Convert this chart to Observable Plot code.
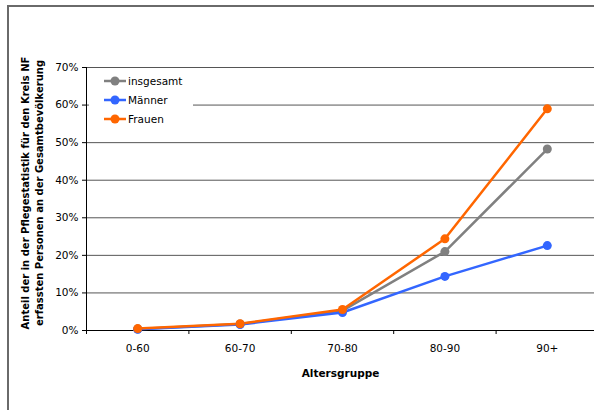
<!DOCTYPE html>
<html>
<head>
<meta charset="utf-8">
<script src="https://cdn.jsdelivr.net/npm/d3@7"></script>
<script src="https://cdn.jsdelivr.net/npm/@observablehq/plot@0.6"></script>
<style>
  html, body { margin: 0; padding: 0; background: #fff; overflow: hidden; }
  #wrap { position: relative; width: 594px; height: 410px; overflow: hidden; background: #fff; }
  #chart svg { display: block; }
  #frame { position: absolute; left: 7px; top: 5px; width: 600px; height: 420px;
           border-left: 2px solid #6a6a6a; border-top: 2px solid #6a6a6a; pointer-events: none; }
  #legend { position: absolute; left: 89px; top: 70px; display: block; }
  svg text { font-family: "DejaVu Sans", Verdana, sans-serif; }
</style>
</head>
<body>
<div id="wrap">
  <div id="chart"></div>
  <svg id="legend" width="104" height="60"></svg>
  <div id="frame"></div>
</div>
<script>
// Altersgruppen (x categories)
const categories = ["0-60", "60-70", "70-80", "80-90", "90+"];

// Anteil in Prozent je Altersgruppe
const insgesamt = [0.4, 1.7, 5.3, 21.0, 48.3];
const maenner   = [0.3, 1.6, 4.8, 14.4, 22.6];
const frauen    = [0.5, 1.8, 5.6, 24.4, 59.0];

const seriesNames  = ["insgesamt", "Männer", "Frauen"];
const seriesValues = [insgesamt, maenner, frauen];
const seriesColors = ["#808080", "#3366ff", "#ff6600"];

const yTicks = [0, 10, 20, 30, 40, 50, 60, 70];

// long-format table for the marks
const rows = seriesNames.flatMap((name, s) =>
  seriesValues[s].map((v, i) => ({series: name, idx: i, value: v}))
);

// tick marks sit between the categories
const boundaries = d3.range(categories.length).map(i => i - 0.5);

const chart = Plot.plot({
  width: 594,
  height: 410,
  marginLeft: 86,
  marginTop: 67,
  marginBottom: 80,
  marginRight: 0,
  style: {fontFamily: "DejaVu Sans, Verdana, sans-serif", fontSize: "10.5px", color: "#000", background: "#fff"},
  x: {domain: [-0.5, categories.length - 0.5], range: [86, 598]},
  y: {domain: [0, 70], range: [330, 67]},
  color: {domain: seriesNames, range: seriesColors},
  marks: [
    // horizontal gridlines
    Plot.ruleY(yTicks.filter(t => t > 0), {stroke: "#555", strokeWidth: 1}),
    // y axis
    Plot.axisY({ticks: yTicks, tickSize: 4, tickPadding: 4, tickFormat: d => d + "%", label: null, fontSize: 10.5}),
    // category tick marks
    Plot.axisX({ticks: boundaries, tickSize: 4, tickFormat: () => "", label: null}),
    // category labels
    Plot.axisX({ticks: d3.range(categories.length), tickSize: 0, tickPadding: 14, tickFormat: i => categories[i], label: null, fontSize: 10.5}),
    Plot.ruleX([-0.5], {stroke: "#000"}),
    Plot.ruleY([0], {stroke: "#000"}),
    // data
    Plot.line(rows, {x: "idx", y: "value", stroke: "series", z: "series", strokeWidth: 2.5}),
    Plot.dot(rows, {x: "idx", y: "value", fill: "series", r: 4.5}),
    // axis titles
    Plot.text(["Altersgruppe"], {frameAnchor: "bottom", dy: 46, fontWeight: "bold", fontSize: 10.5}),
    Plot.text(["Anteil der in der Pflegestatistik für den Kreis NF\nerfassten Personen an der Gesamtbevölkerung"],
      {frameAnchor: "left", dx: -55, dy: -6, rotate: -90, fontWeight: "bold", fontSize: 10, lineHeight: 1.45, textAnchor: "middle"})
  ]
});
document.getElementById("chart").append(chart);

// legend box inside the plot area
const lg = d3.select("#legend");
lg.append("rect").attr("width", 104).attr("height", 60).attr("fill", "#fff");
seriesNames.forEach((name, i) => {
  const y = 11 + i * 19;
  lg.append("line").attr("x1", 15).attr("x2", 37).attr("y1", y).attr("y2", y)
    .attr("stroke", seriesColors[i]).attr("stroke-width", 2.5);
  lg.append("circle").attr("cx", 26).attr("cy", y).attr("r", 4.5).attr("fill", seriesColors[i]);
  lg.append("text").attr("x", 39).attr("y", y).attr("dy", "0.35em")
    .attr("font-size", 10.5).attr("fill", "#000").text(name);
});
</script>
</body>
</html>
